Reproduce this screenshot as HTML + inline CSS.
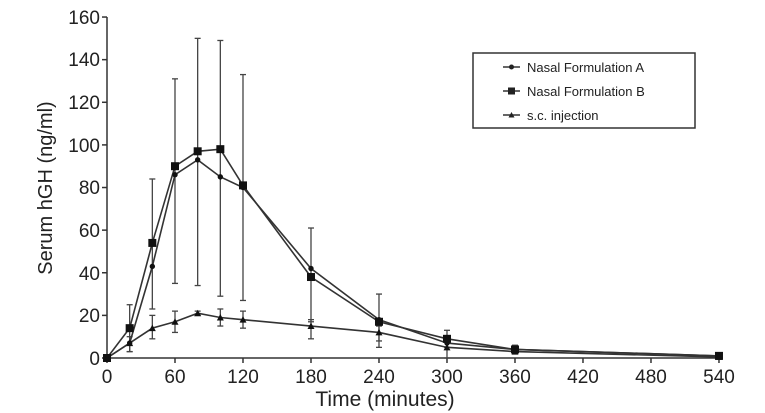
<!DOCTYPE html>
<html><head><meta charset="utf-8"><style>
html,body{margin:0;padding:0;background:#fff;}
svg{display:block;font-family:"Liberation Sans",Arial,sans-serif;}
</style></head><body>
<svg id="s" width="765" height="413" viewBox="0 0 765 413" xmlns="http://www.w3.org/2000/svg">
<g stroke="#333" stroke-width="1.5" fill="none">
<line x1="107" y1="17" x2="107" y2="358"/>
<line x1="107" y1="358" x2="722" y2="358"/>
</g>
<g id="ticks" stroke="#333" stroke-width="1.5"></g>
<g font-size="19" fill="#222" text-anchor="end">
<text x="100" y="365">0</text>
<text x="100" y="322">20</text>
<text x="100" y="280">40</text>
<text x="100" y="237">60</text>
<text x="100" y="194">80</text>
<text x="100" y="152">100</text>
<text x="100" y="109">120</text>
<text x="100" y="66">140</text>
<text x="100" y="24">160</text>
</g>
<g font-size="19" fill="#222" text-anchor="middle">
<text x="107" y="383">0</text>
<text x="175" y="383">60</text>
<text x="243" y="383">120</text>
<text x="311" y="383">180</text>
<text x="379" y="383">240</text>
<text x="447" y="383">300</text>
<text x="515" y="383">360</text>
<text x="583" y="383">420</text>
<text x="651" y="383">480</text>
<text x="719" y="383">540</text>
<text x="385" y="406" font-size="21">Time (minutes)</text>
</g>
<text transform="translate(52,188) rotate(-90)" font-size="20" fill="#222" text-anchor="middle">Serum hGH (ng/ml)</text>
<g id="data"></g>
<rect x="473" y="53" width="222" height="75" fill="#fff" stroke="#333" stroke-width="1.5"/>
<g stroke="#333" stroke-width="1.5">
<line x1="503" y1="67" x2="520" y2="67"/>
<line x1="503" y1="91" x2="520" y2="91"/>
<line x1="503" y1="115" x2="520" y2="115"/>
</g>
<circle cx="511.5" cy="67" r="2.5" fill="#222"/>
<rect x="508" y="87.5" width="7" height="7" fill="#222"/>
<polygon points="511.5,112 508.5,117.5 514.5,117.5" fill="#222"/>
<g font-size="13" fill="#222">
<text x="527" y="72">Nasal Formulation A</text>
<text x="527" y="96">Nasal Formulation B</text>
<text x="527" y="120">s.c. injection</text>
</g>
</svg>
<script>
var X=function(t){return 107+t*1.1333;},Y=function(v){return 358-v*2.131;};
var ns="http://www.w3.org/2000/svg";
function el(p,n,a){var e=document.createElementNS(ns,n);for(var k in a)e.setAttribute(k,a[k]);p.appendChild(e);return e;}
var tk=document.getElementById('ticks');
for(var v=0;v<=160;v+=20)el(tk,'line',{x1:102,x2:107,y1:Y(v),y2:Y(v)});
for(var t=0;t<=540;t+=60)el(tk,'line',{x1:X(t),x2:X(t),y1:358,y2:363});
var d=document.getElementById('data');
var T=[0,20,40,60,80,100,120,180,240,300,360,540];
var A=[0,7,43,86,93,85,80,42,18,7,4,1];
var B=[0,14,54,90,97,98,81,38,17,9,4,1];
var C=[0,7,14,17,21,19,18,15,12,5,3,0.5];
var eB=[[0,0],[25,3],[84,23],[131,35],[150,34],[149,29],[133,27],[61,17],[30,8],[13,5],[6,2],[2,0]];
var eC=[[0,0],[10,3],[20,9],[22,12],[22,20],[23,15],[22,14],[18,9],[15,5],[8,0],[4,2],[1,0]];
function err(e){for(var i=0;i<T.length;i++){var x=X(T[i]),a=Y(e[i][0]),b=Y(e[i][1]);if(a==b)continue;
el(d,'line',{x1:x,x2:x,y1:a,y2:b,stroke:'#444','stroke-width':1.3});
el(d,'line',{x1:x-3,x2:x+3,y1:a,y2:a,stroke:'#444','stroke-width':1.3});
el(d,'line',{x1:x-3,x2:x+3,y1:b,y2:b,stroke:'#444','stroke-width':1.3});}}
err(eB);err(eC);
function line(v){var p=T.map(function(t,i){return X(t)+','+Y(v[i]);}).join(' ');el(d,'polyline',{points:p,fill:'none',stroke:'#333','stroke-width':1.6});}
line(A);line(B);line(C);
for(var i=0;i<T.length;i++){var x=X(T[i]);
el(d,'circle',{cx:x,cy:Y(A[i]),r:2.7,fill:'#111'});
el(d,'rect',{x:x-4,y:Y(B[i])-4,width:8,height:8,fill:'#111'});
var y=Y(C[i]);el(d,'polygon',{points:x+','+(y-3.5)+' '+(x-3.5)+','+(y+3)+' '+(x+3.5)+','+(y+3),fill:'#111'});}
</script>
</body></html>
